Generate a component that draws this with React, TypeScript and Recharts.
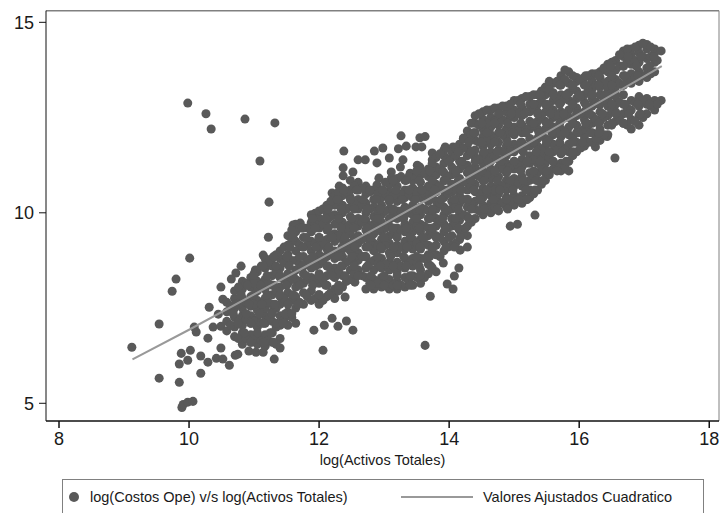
import React from 'react';
import { ScatterChart, Scatter, XAxis, YAxis, ZAxis, ReferenceLine } from 'recharts';

type Column = [number, number[]];

const xTicks = [8, 10, 12, 14, 16, 18];
const yTicks = [5, 10, 15];

const fitX = [9.13, 10, 11, 12, 13, 14, 15, 16, 17, 17.27];
const fitY = [6.15, 6.93, 7.86, 8.78, 9.71, 10.66, 11.62, 12.6, 13.58, 13.85];

// isolated points read one by one
const outliers: [number, number][] = [
  [9.12, 6.47], [9.54, 7.08], [9.74, 7.94], [9.8, 8.26], [10.01, 8.81], [9.54, 5.66], [9.85, 5.55],
  [9.89, 4.89], [9.91, 4.97], [9.98, 5.03], [10.06, 5.05], [10.18, 5.79], [9.85, 6.03], [9.98, 6.13],
  [9.88, 6.31], [10.02, 6.39], [10.18, 6.24], [10.29, 6.08], [10.42, 6.18], [10.52, 6.16], [10.62, 6.0],
  [10.71, 6.26], [10.75, 6.29], [10.49, 6.45], [10.29, 6.71], [10.11, 6.87], [10.08, 7.0], [10.37, 7.0],
  [10.49, 7.02], [10.31, 7.52], [10.45, 7.34], [10.52, 7.73], [10.49, 8.05], [10.65, 8.26], [10.72, 8.42],
  [10.8, 8.6], [10.92, 6.37], [11.03, 6.34], [11.14, 6.34], [11.31, 6.16], [12.06, 6.39], [11.92, 6.92],
  [12.08, 7.05], [12.2, 7.23], [12.29, 7.02], [12.42, 7.16], [12.52, 6.92], [12.55, 8.18], [12.4, 7.79],
  [12.22, 7.84], [9.98, 12.88], [10.26, 12.6], [10.34, 12.2], [10.86, 12.46], [11.32, 12.36], [11.09, 11.36],
  [11.23, 10.28], [13.63, 6.52], [13.71, 7.81], [13.97, 8.13], [14.06, 8.0], [14.08, 8.34], [14.15, 8.55],
  [13.91, 8.68], [14.28, 9.1], [14.17, 9.02], [14.22, 9.55], [14.94, 9.65], [15.05, 9.7], [15.32, 9.94],
  [16.55, 11.44], [16.25, 11.73], [16.43, 12.0],
];

const upperFringe: [number, number][] = [
  [12.38, 11.62], [12.37, 11.18], [12.37, 10.97], [12.52, 11.07], [12.6, 11.39], [12.71, 11.39], [12.85, 11.62],
  [12.89, 11.31], [12.98, 11.7], [13.08, 11.44], [12.92, 10.91], [12.89, 10.73], [13.11, 11.07], [13.11, 10.91],
  [13.22, 11.68], [13.34, 11.75], [13.26, 12.02], [13.25, 11.2], [13.29, 11.39], [13.4, 11.04], [13.49, 11.73],
  [13.58, 11.73], [13.55, 11.97], [13.63, 12.0], [13.51, 11.25], [13.55, 11.2], [13.74, 11.57], [13.74, 11.39],
  [13.94, 11.73], [14.06, 11.73], [14.22, 11.96], [11.94, 9.99], [12.11, 10.15], [12.2, 10.52], [12.31, 10.7],
  [11.6, 9.68], [11.71, 9.73], [11.22, 9.36], [11.14, 8.89], [11.02, 8.5],
];

const cloudA: Column[] = [
  [10.58, [6.9, 7.15, 7.4, 7.65]],
  [10.7, [6.75, 7.0, 7.25, 7.5, 7.75, 7.95]],
  [10.82, [6.55, 6.85, 7.05, 7.3, 7.5, 7.75, 8.0, 8.2]],
  [10.95, [6.6, 6.8, 7.1, 7.3, 7.55, 7.8, 8.05, 8.3]],
  [11.05, [6.55, 6.75, 7.0, 7.2, 7.45, 7.7, 7.95, 8.2, 8.45]],
  [11.17, [6.5, 6.8, 7.1, 7.3, 7.5, 7.75, 8.0, 8.25, 8.55, 8.8]],
  [11.28, [6.6, 6.85, 7.15, 7.4, 7.6, 7.85, 8.1, 8.35, 8.6, 8.8]],
  [11.4, [6.45, 6.7, 7.05, 7.3, 7.6, 7.8, 8.05, 8.3, 8.55, 8.8, 9.0]],
  [11.52, [7.05, 7.4, 7.65, 7.9, 8.15, 8.4, 8.65, 8.9, 9.15, 9.4]],
  [11.64, [7.1, 7.5, 7.8, 8.05, 8.25, 8.5, 8.75, 9.0, 9.25, 9.5, 9.7]],
  [11.76, [7.6, 7.9, 8.15, 8.4, 8.6, 8.85, 9.1, 9.35, 9.6]],
  [11.88, [7.7, 7.95, 8.3, 8.55, 8.8, 9.0, 9.25, 9.5, 9.75, 9.95]],
];

const cloudB: Column[] = [
  [12.0, [7.6, 7.85, 8.15, 8.4, 8.65, 8.9, 9.1, 9.35, 9.6, 9.85, 10.05]],
  [12.12, [7.8, 8.1, 8.35, 8.6, 8.85, 9.05, 9.3, 9.55, 9.8, 10.0, 10.2]],
  [12.24, [7.75, 8.0, 8.3, 8.55, 8.8, 9.0, 9.25, 9.45, 9.7, 9.95, 10.2, 10.45]],
  [12.36, [8.05, 8.35, 8.6, 8.85, 9.05, 9.3, 9.5, 9.75, 10.0, 10.2, 10.45, 10.65]],
  [12.48, [8.25, 8.5, 8.75, 9.0, 9.2, 9.45, 9.7, 9.9, 10.15, 10.4, 10.6, 10.85]],
  [12.6, [8.5, 8.75, 8.95, 9.2, 9.4, 9.65, 9.85, 10.1, 10.35, 10.6, 10.8]],
  [12.72, [8.0, 8.3, 8.55, 8.85, 9.1, 9.35, 9.55, 9.8, 10.0, 10.25, 10.5, 10.7]],
  [12.84, [8.0, 8.25, 8.5, 8.75, 9.0, 9.2, 9.45, 9.7, 9.9, 10.15, 10.35, 10.6]],
  [12.96, [8.05, 8.3, 8.55, 8.8, 9.05, 9.3, 9.5, 9.75, 9.95, 10.2, 10.4, 10.6]],
  [13.08, [8.0, 8.25, 8.5, 8.7, 8.95, 9.2, 9.4, 9.65, 9.85, 10.1, 10.3, 10.55, 10.75]],
  [13.2, [8.0, 8.2, 8.45, 8.7, 8.95, 9.15, 9.4, 9.6, 9.85, 10.05, 10.3, 10.5, 10.7, 10.9]],
  [13.32, [8.05, 8.3, 8.55, 8.8, 9.05, 9.25, 9.5, 9.7, 9.95, 10.15, 10.4, 10.6, 10.85]],
  [13.44, [8.1, 8.35, 8.6, 8.8, 9.05, 9.3, 9.5, 9.75, 9.95, 10.2, 10.4, 10.65, 10.85, 11.0]],
  [13.56, [8.15, 8.5, 8.8, 9.05, 9.3, 9.5, 9.7, 9.95, 10.15, 10.4, 10.6, 10.8, 11.0]],
  [13.68, [8.4, 8.65, 8.9, 9.15, 9.4, 9.6, 9.85, 10.05, 10.3, 10.5, 10.7, 10.95, 11.15]],
  [13.8, [8.45, 8.9, 9.15, 9.4, 9.65, 9.85, 10.1, 10.3, 10.55, 10.75, 11.0, 11.2, 11.45]],
  [13.92, [9.0, 9.25, 9.5, 9.7, 9.95, 10.15, 10.4, 10.6, 10.85, 11.05, 11.3, 11.5, 11.65]],
  [14.04, [9.15, 9.4, 9.65, 9.85, 10.1, 10.3, 10.55, 10.75, 11.0, 11.2, 11.45, 11.6]],
];

const cloudC: Column[] = [
  [14.16, [9.3, 9.55, 9.8, 10.0, 10.25, 10.45, 10.7, 10.9, 11.15, 11.35, 11.6, 11.8]],
  [14.28, [9.4, 9.65, 9.9, 10.15, 10.35, 10.6, 10.8, 11.05, 11.25, 11.5, 11.7, 11.95, 12.15]],
  [14.4, [9.85, 10.1, 10.3, 10.55, 10.75, 11.0, 11.2, 11.45, 11.65, 11.9, 12.1, 12.35, 12.55]],
  [14.52, [9.95, 10.2, 10.4, 10.65, 10.85, 11.1, 11.3, 11.55, 11.75, 12.0, 12.2, 12.45, 12.65]],
  [14.64, [10.0, 10.25, 10.45, 10.7, 10.9, 11.15, 11.35, 11.6, 11.8, 12.05, 12.25, 12.5, 12.7]],
  [14.76, [10.05, 10.3, 10.5, 10.75, 10.95, 11.2, 11.4, 11.65, 11.85, 12.1, 12.3, 12.55, 12.75]],
  [14.88, [10.15, 10.4, 10.6, 10.85, 11.05, 11.3, 11.5, 11.75, 11.95, 12.2, 12.4, 12.65, 12.8]],
  [15.0, [10.2, 10.45, 10.7, 10.9, 11.15, 11.35, 11.6, 11.8, 12.05, 12.25, 12.5, 12.7, 12.95]],
  [15.12, [10.25, 10.45, 10.7, 10.95, 11.2, 11.4, 11.65, 11.85, 12.1, 12.3, 12.55, 12.75, 13.0]],
  [15.24, [10.4, 10.6, 10.85, 11.05, 11.3, 11.5, 11.75, 11.95, 12.2, 12.4, 12.65, 12.85, 13.05]],
  [15.36, [10.6, 10.85, 11.05, 11.3, 11.5, 11.75, 11.95, 12.2, 12.4, 12.65, 12.85, 13.1]],
  [15.48, [10.85, 11.05, 11.3, 11.5, 11.75, 11.95, 12.2, 12.4, 12.65, 12.85, 13.1, 13.3]],
  [15.6, [11.15, 11.35, 11.6, 11.8, 12.05, 12.25, 12.5, 12.7, 12.95, 13.15, 13.4]],
  [15.72, [11.1, 11.3, 11.55, 11.75, 12.0, 12.2, 12.45, 12.65, 12.9, 13.1, 13.35, 13.6]],
  [15.84, [11.1, 11.35, 11.6, 11.8, 12.05, 12.25, 12.5, 12.7, 12.95, 13.15, 13.4, 13.7]],
  [15.96, [11.6, 11.85, 12.1, 12.3, 12.55, 12.75, 13.0, 13.2, 13.45, 13.55]],
];

const cloudD: Column[] = [
  [16.08, [11.75, 12.0, 12.2, 12.45, 12.65, 12.9, 13.1, 13.35, 13.55]],
  [16.2, [11.85, 12.1, 12.35, 12.55, 12.8, 13.0, 13.25, 13.45, 13.65]],
  [16.32, [11.9, 12.2, 12.4, 12.65, 12.85, 13.1, 13.3, 13.55, 13.7]],
  [16.44, [12.05, 12.3, 12.55, 12.8, 13.0, 13.25, 13.45, 13.7, 13.9]],
  [16.56, [12.4, 12.65, 12.85, 13.05, 13.3, 13.5, 13.75, 14.0]],
  [16.68, [12.35, 12.6, 12.85, 13.1, 13.35, 13.6, 13.85, 14.1, 14.25]],
  [16.8, [12.2, 12.45, 12.7, 12.95, 13.4, 13.65, 13.9, 14.15, 14.3]],
  [16.92, [12.3, 12.55, 12.8, 13.05, 13.45, 13.7, 13.95, 14.2, 14.4]],
  [17.04, [12.6, 12.85, 13.0, 13.55, 13.8, 14.05, 14.3, 14.42]],
  [17.16, [12.7, 12.95, 13.7, 13.95, 14.2, 14.3]],
  [17.26, [12.95, 14.25]],
];

// points sitting between the columns above
const betweenA: Column[] = [
  [10.64, [7.05, 7.55]],
  [10.76, [6.7, 7.15, 7.6, 8.05]],
  [10.88, [6.7, 7.2, 7.65, 8.15]],
  [11.0, [6.7, 7.15, 7.6, 8.15, 8.4]],
  [11.11, [6.65, 7.1, 7.6, 8.1, 8.6]],
  [11.22, [6.65, 7.2, 7.65, 8.15, 8.7]],
  [11.34, [6.55, 7.0, 7.5, 7.95, 8.45, 8.9]],
  [11.46, [7.2, 7.75, 8.25, 8.7, 9.1]],
  [11.58, [7.25, 7.7, 8.25, 8.75, 9.25, 9.55]],
  [11.7, [7.65, 8.2, 8.65, 9.15, 9.6]],
  [11.82, [7.8, 8.25, 8.7, 9.15, 9.6]],
  [11.94, [7.75, 8.25, 8.75, 9.2, 9.7]],
];

const betweenB: Column[] = [
  [12.06, [7.7, 8.25, 8.75, 9.2, 9.7, 10.1]],
  [12.18, [7.9, 8.45, 8.95, 9.4, 9.9, 10.3]],
  [12.3, [7.95, 8.45, 8.95, 9.4, 9.85, 10.35, 10.55]],
  [12.42, [8.2, 8.7, 9.15, 9.6, 10.1, 10.55]],
  [12.54, [8.4, 8.85, 9.3, 9.8, 10.25, 10.7]],
  [12.66, [8.35, 8.85, 9.3, 9.75, 10.2, 10.65]],
  [12.78, [8.15, 8.7, 9.2, 9.65, 10.1, 10.55]],
  [12.9, [8.15, 8.65, 9.15, 9.6, 10.05, 10.5]],
  [13.02, [8.15, 8.65, 9.15, 9.6, 10.05, 10.5, 10.8]],
  [13.14, [8.1, 8.6, 9.05, 9.55, 10.0, 10.45, 10.85]],
  [13.26, [8.1, 8.6, 9.1, 9.55, 10.05, 10.5, 10.95]],
  [13.38, [8.2, 8.7, 9.15, 9.6, 10.1, 10.5, 10.95]],
  [13.5, [8.3, 8.7, 9.2, 9.65, 10.05, 10.55, 10.95]],
  [13.62, [8.3, 8.8, 9.2, 9.65, 10.1, 10.5, 11.05]],
  [13.74, [8.55, 9.05, 9.5, 9.95, 10.4, 10.85, 11.3]],
  [13.86, [8.85, 9.35, 9.8, 10.25, 10.7, 11.15, 11.55]],
  [13.98, [9.1, 9.6, 10.05, 10.5, 10.95, 11.4]],
  [14.1, [9.2, 9.7, 10.15, 10.6, 11.05, 11.5, 11.7]],
];

const betweenC: Column[] = [
  [14.22, [9.45, 9.95, 10.35, 10.8, 11.25, 11.7, 11.95]],
  [14.34, [9.75, 10.25, 10.7, 11.15, 11.6, 12.05, 12.35]],
  [14.46, [10.05, 10.5, 10.95, 11.4, 11.85, 12.3, 12.6]],
  [14.58, [10.1, 10.55, 11.0, 11.45, 11.9, 12.35, 12.7]],
  [14.7, [10.15, 10.6, 11.05, 11.5, 11.95, 12.4, 12.75]],
  [14.82, [10.25, 10.7, 11.15, 11.6, 12.05, 12.45, 12.8]],
  [14.94, [10.3, 10.75, 11.2, 11.65, 12.1, 12.55, 12.85]],
  [15.06, [10.35, 10.8, 11.25, 11.7, 12.15, 12.6, 12.95]],
  [15.18, [10.35, 10.8, 11.3, 11.75, 12.2, 12.65, 13.05]],
  [15.3, [10.5, 10.95, 11.4, 11.85, 12.3, 12.75, 13.1]],
  [15.42, [10.75, 11.2, 11.65, 12.1, 12.55, 13.0, 13.2]],
  [15.54, [11.0, 11.45, 11.9, 12.35, 12.8, 13.25, 13.45]],
  [15.66, [11.2, 11.65, 12.1, 12.55, 13.0, 13.45]],
  [15.78, [11.2, 11.65, 12.1, 12.55, 13.0, 13.5, 13.75]],
  [15.9, [11.5, 11.95, 12.4, 12.85, 13.3, 13.6]],
  [16.02, [11.7, 12.15, 12.6, 13.05, 13.5]],
];

const betweenD: Column[] = [
  [16.14, [11.85, 12.3, 12.75, 13.2, 13.6]],
  [16.26, [11.95, 12.45, 12.9, 13.35, 13.65]],
  [16.38, [12.05, 12.5, 12.95, 13.4, 13.8]],
  [16.5, [12.3, 12.7, 13.15, 13.6, 13.95]],
  [16.62, [12.45, 12.9, 13.4, 13.85, 14.15]],
  [16.74, [12.3, 12.75, 13.5, 13.95, 14.3]],
  [16.86, [12.4, 12.9, 13.55, 14.0, 14.35]],
  [16.98, [12.5, 12.95, 13.6, 14.1, 14.45]],
  [17.1, [12.8, 13.65, 14.1, 14.35]],
  [17.2, [12.85, 14.0]],
];

// same cloud again read along rows: [y, x values]
const rowsLow: Column[] = [
  [6.6, [10.95, 11.15, 11.3]],
  [6.85, [10.85, 11.05, 11.25]],
  [7.1, [10.75, 10.95, 11.15, 11.35, 11.45]],
  [7.35, [10.68, 10.88, 11.08, 11.28, 11.48, 11.58]],
  [7.6, [10.72, 10.92, 11.12, 11.32, 11.52, 11.68]],
  [7.85, [10.8, 11.0, 11.2, 11.4, 11.6, 11.8, 12.0, 12.15]],
  [8.1, [10.9, 11.1, 11.3, 11.5, 11.7, 11.9, 12.1, 12.3, 12.8, 13.0, 13.2, 13.4]],
  [8.35, [11.0, 11.2, 11.4, 11.6, 11.8, 12.0, 12.2, 12.4, 12.6, 12.8, 13.0, 13.2, 13.4, 13.55]],
  [8.6, [11.14, 11.34, 11.54, 11.74, 11.94, 12.14, 12.34, 12.54, 12.74, 12.94, 13.14, 13.34, 13.54, 13.72]],
  [8.85, [11.3, 11.5, 11.7, 11.9, 12.1, 12.3, 12.5, 12.7, 12.9, 13.1, 13.3, 13.5, 13.7]],
  [9.1, [11.55, 11.75, 11.95, 12.15, 12.35, 12.55, 12.75, 12.95, 13.15, 13.35, 13.55, 13.75, 13.95, 14.08]],
  [9.35, [11.6, 11.8, 12.0, 12.2, 12.4, 12.6, 12.8, 13.0, 13.2, 13.4, 13.6, 13.8, 14.0, 14.17]],
  [9.6, [11.74, 11.94, 12.14, 12.34, 12.54, 12.74, 12.94, 13.14, 13.34, 13.54, 13.74, 13.94, 14.14, 14.25]],
  [9.85, [11.9, 12.1, 12.3, 12.5, 12.7, 12.9, 13.1, 13.3, 13.5, 13.7, 13.9, 14.1, 14.3]],
];

const rowsMid: Column[] = [
  [10.1, [12.14, 12.34, 12.54, 12.74, 12.94, 13.14, 13.34, 13.54, 13.74, 13.94, 14.14, 14.34, 14.54, 14.74, 14.9]],
  [10.35, [12.28, 12.48, 12.68, 12.88, 13.08, 13.28, 13.48, 13.68, 13.88, 14.08, 14.28, 14.48, 14.68, 14.88, 15.08, 15.2]],
  [10.6, [12.38, 12.58, 12.78, 12.98, 13.18, 13.38, 13.58, 13.78, 13.98, 14.18, 14.38, 14.58, 14.78, 14.98, 15.18, 15.32]],
  [10.85, [13.14, 13.34, 13.54, 13.74, 13.94, 14.14, 14.34, 14.54, 14.74, 14.94, 15.14, 15.34, 15.44]],
  [11.1, [13.5, 13.7, 13.9, 14.1, 14.3, 14.5, 14.7, 14.9, 15.1, 15.3, 15.5, 15.66]],
  [11.35, [14.0, 14.2, 14.4, 14.6, 14.8, 15.0, 15.2, 15.4, 15.6, 15.8]],
  [11.6, [14.14, 14.34, 14.54, 14.74, 14.94, 15.14, 15.34, 15.54, 15.74, 15.9]],
  [11.85, [14.3, 14.5, 14.7, 14.9, 15.1, 15.3, 15.5, 15.7, 15.9, 16.05]],
];

const rowsHigh: Column[] = [
  [12.1, [14.38, 14.58, 14.78, 14.98, 15.18, 15.38, 15.58, 15.78, 15.98, 16.18, 16.3]],
  [12.35, [14.5, 14.7, 14.9, 15.1, 15.3, 15.5, 15.7, 15.9, 16.1, 16.3, 16.5, 16.68]],
  [12.6, [14.76, 14.96, 15.16, 15.36, 15.56, 15.76, 15.96, 16.16, 16.36, 16.56, 16.76, 16.94]],
  [12.85, [15.1, 15.3, 15.5, 15.7, 15.9, 16.1, 16.3, 16.5, 16.7, 16.9, 17.08]],
  [13.1, [15.4, 15.6, 15.8, 16.0, 16.2, 16.4, 16.56]],
  [13.35, [15.7, 15.9, 16.1, 16.3, 16.5, 16.68]],
  [13.6, [16.1, 16.3, 16.5, 16.7, 16.9, 17.02]],
  [13.85, [16.48, 16.68, 16.88, 17.08]],
  [14.1, [16.75, 16.95, 17.15]],
];

const flatten = (cols: Column[]) => cols.flatMap(([x, ys]) => ys.map((y) => ({ x, y })));
const flattenRows = (rows: Column[]) => rows.flatMap(([y, xs]) => xs.map((x) => ({ x, y })));
const fromPairs = (pairs: [number, number][]) => pairs.map(([x, y]) => ({ x, y }));

const points = [
  ...fromPairs(outliers),
  ...fromPairs(upperFringe),
  ...flatten(cloudA),
  ...flatten(cloudB),
  ...flatten(cloudC),
  ...flatten(cloudD),
  ...flatten(betweenA),
  ...flatten(betweenB),
  ...flatten(betweenC),
  ...flatten(betweenD),
  ...flattenRows(rowsLow),
  ...flattenRows(rowsMid),
  ...flattenRows(rowsHigh),
];
const fitted = fitX.map((x, i) => ({ x, y: fitY[i] }));

const FONT = '"Liberation Sans", Arial, sans-serif';
const DOT = '#595959';
const FIT = '#999999';
const FRAME = '#808080';

export default function App() {
  return (
    <div style={{ position: 'absolute', left: 0, top: 0, width: 721, height: 513, overflow: 'hidden', background: '#fff', fontFamily: FONT }}>
      <ScatterChart width={721} height={513} margin={{ top: 10.7, right: 2, bottom: 62, left: 0 }}>
        <XAxis
          type="number"
          dataKey="x"
          domain={[7.8, 18.15]}
          ticks={xTicks}
          height={30}
          allowDataOverflow
          tickSize={7}
          tickMargin={4}
          stroke="#111"
          strokeWidth={1.5}
          tick={{ fontSize: 18, fill: '#1a1a1a', fontFamily: FONT }}
          label={{ value: 'log(Activos Totales)', position: 'insideBottom', offset: -14, fontSize: 14.5, fill: '#1a1a1a', fontFamily: FONT }}
        />
        <YAxis
          type="number"
          dataKey="y"
          domain={[4.535, 15.305]}
          ticks={yTicks}
          width={46}
          allowDataOverflow
          tickSize={7}
          tickMargin={5}
          stroke="#111"
          tick={{ fontSize: 18, fill: '#1a1a1a', fontFamily: FONT }}
        />
        <ZAxis range={[92, 92]} />
        <ReferenceLine y={15.305} stroke={FRAME} strokeWidth={1.5} />
        <ReferenceLine x={18.15} stroke={FRAME} strokeWidth={1} />
        <Scatter data={points} fill={DOT} isAnimationActive={false} />
        <Scatter data={fitted} line={{ stroke: FIT, strokeWidth: 2 }} shape={() => <g />} isAnimationActive={false} />
      </ScatterChart>
      <div style={{ position: 'absolute', left: 62, top: 479, width: 642, height: 40, border: `1px solid ${FRAME}`, boxSizing: 'border-box', fontSize: 14.5, color: '#1a1a1a', whiteSpace: 'nowrap' }}>
        <span style={{ position: 'absolute', left: 6, top: 12, width: 10, height: 10, borderRadius: 5, background: DOT }} />
        <span style={{ position: 'absolute', left: 27, top: 9 }}>log(Costos Ope) v/s log(Activos Totales)</span>
        <span style={{ position: 'absolute', left: 338, top: 16, width: 72, height: 2, background: FIT }} />
        <span style={{ position: 'absolute', left: 420, top: 9 }}>Valores Ajustados Cuadratico</span>
      </div>
    </div>
  );
}
